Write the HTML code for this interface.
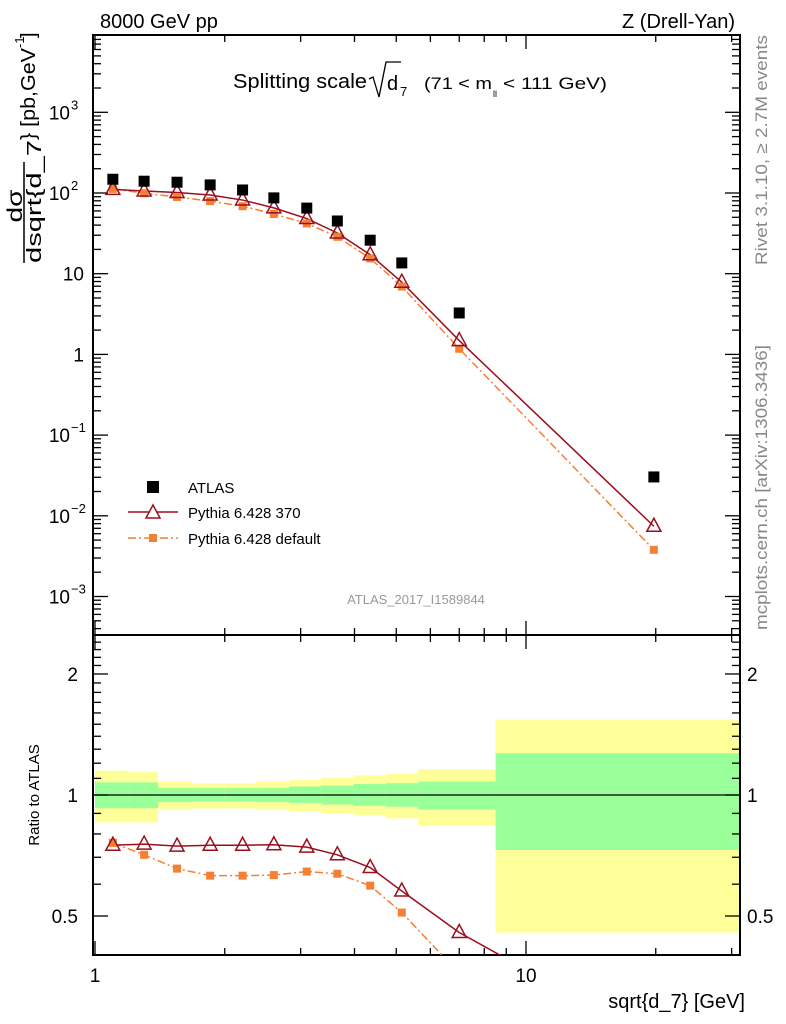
<!DOCTYPE html>
<html><head><meta charset="utf-8">
<style>
html,body{margin:0;padding:0;background:#fff;width:786px;height:1024px;overflow:hidden;}
svg{display:block;font-family:"Liberation Sans",sans-serif;}
</style></head>
<body>
<svg id="chart" width="786" height="1024" viewBox="0 0 786 1024" xmlns="http://www.w3.org/2000/svg">
<defs><clipPath id="rc"><rect x="93" y="635" width="647" height="320"/></clipPath></defs>
<g id="bands"></g>
<g id="frames"></g>
<g id="marks"></g>
<g id="rmarks" clip-path="url(#rc)"></g>
<g id="texts">
<text x="100" y="28" font-size="20">8000 GeV pp</text>
<text x="735" y="28" font-size="20" text-anchor="end">Z (Drell-Yan)</text>
<g>
<text x="233" y="88" font-size="20" textLength="134" lengthAdjust="spacingAndGlyphs">Splitting scale</text>
<path d="M369,79 L373,77 L379,97 L386,62 L401,62" fill="none" stroke="#000" stroke-width="1.3"/>
<text x="387" y="90" font-size="20">d</text>
<text x="400" y="96" font-size="13">7</text>
<text x="424" y="89" font-size="17" textLength="68" lengthAdjust="spacingAndGlyphs">(71 &lt; m</text>
<text x="493" y="97" font-size="9">ll</text>
<text x="503" y="89" font-size="17" textLength="104" lengthAdjust="spacingAndGlyphs">&lt; 111 GeV)</text>
</g>
<g transform="rotate(-90)">
<text x="-206" y="22" font-size="21" text-anchor="middle" textLength="33" lengthAdjust="spacingAndGlyphs">dσ</text>
<line x1="-263" y1="24" x2="-162" y2="24" stroke="#000" stroke-width="1.5"/>
<text x="-263" y="41" font-size="20" textLength="123" lengthAdjust="spacingAndGlyphs">dsqrt{d_7</text>
<text x="-140" y="35" font-size="20" textLength="92" lengthAdjust="spacingAndGlyphs">} [pb,GeV</text>
<text x="-48" y="24" font-size="13">-1</text>
<text x="-38" y="35" font-size="20">]</text>
</g>
<text transform="translate(39,795) rotate(-90)" font-size="15" text-anchor="middle">Ratio to ATLAS</text>
<text x="745" y="1008" font-size="20" text-anchor="end">sqrt{d_7} [GeV]</text>
<text transform="translate(767,265) rotate(-90)" font-size="17" fill="#888" textLength="230" lengthAdjust="spacingAndGlyphs">Rivet 3.1.10, ≥ 2.7M events</text>
<text transform="translate(767,630) rotate(-90)" font-size="17" fill="#888" textLength="285" lengthAdjust="spacingAndGlyphs">mcplots.cern.ch [arXiv:1306.3436]</text>
<text x="416" y="604" font-size="13" fill="#999" text-anchor="middle">ATLAS_2017_I1589844</text>
</g>
<g id="legend">
<rect x="147" y="481" width="12" height="12" fill="#000"/>
<text x="188" y="493" font-size="15">ATLAS</text>
<line x1="128" y1="512" x2="178" y2="512" stroke="#9b0e1e" stroke-width="1.5"/>
<path d="M153,505 L160,518 L146,518 Z" fill="#fff" stroke="#9b0e1e" stroke-width="1.5"/>
<text x="188" y="518" font-size="15">Pythia 6.428 370</text>
<line x1="128" y1="538" x2="178" y2="538" stroke="#f57f33" stroke-width="1.5" stroke-dasharray="8,3,2,3"/>
<rect x="149" y="534" width="8" height="8" fill="#f57f33"/>
<text x="188" y="544" font-size="15">Pythia 6.428 default</text>
</g>
</svg>
<script>
const xVals=[1.1,1.3,1.55,1.85,2.2,2.6,3.1,3.65,4.35,5.15,7.0,19.8];
const atlasVals=[148,140,136,126,109,87,65,45,26,13.6,3.26,0.0303];
const ratio370=[0.75,0.755,0.746,0.75,0.75,0.752,0.742,0.71,0.66,0.577,0.455,0.245];
const ratioDef=[0.76,0.71,0.656,0.63,0.63,0.632,0.645,0.637,0.595,0.51,0.36,0.125];
const binEdges=[1,1.2,1.4,1.68,2,2.37,2.82,3.35,3.98,4.73,5.62,8.5,31.6];
const yelHi=[1.15,1.14,1.08,1.07,1.07,1.08,1.09,1.105,1.12,1.13,1.16,1.54];
const yelLo=[0.855,0.855,0.92,0.925,0.925,0.92,0.91,0.90,0.89,0.875,0.84,0.455];
const grnHi=[1.075,1.075,1.04,1.04,1.04,1.04,1.05,1.055,1.065,1.07,1.08,1.27];
const grnLo=[0.927,0.927,0.96,0.963,0.963,0.96,0.955,0.947,0.94,0.935,0.92,0.73];
const yTicks=[-3,-2,-1,0,1,2,3];
const yTickLabels=["10","10","10","1","10","10","10"];
const yTickExp=["−3","−2","−1","","","2","3"];

const NS="http://www.w3.org/2000/svg";
const L=93,R=740,T=35,MB=635,RB=955;
const X=v=>95+431*Math.log10(v);
const Y=v=>193-80.7*(Math.log10(v)-2);
const RY=v=>795-402*Math.log10(v);
function mk(parent,tag,attrs){const e=document.createElementNS(NS,tag);for(const k in attrs)e.setAttribute(k,attrs[k]);document.getElementById(parent).appendChild(e);return e;}

for(let i=0;i<binEdges.length-1;i++){
  const x1=Math.max(X(binEdges[i]),L+1),x2=Math.min(X(binEdges[i+1]),R);
  let e=mk('bands','rect',{x:x1,y:RY(yelHi[i]),width:x2-x1,height:RY(yelLo[i])-RY(yelHi[i]),fill:'#ffff99'});
  
  
  e=mk('bands','rect',{x:x1,y:RY(grnHi[i]),width:x2-x1,height:RY(grnLo[i])-RY(grnHi[i]),fill:'#99ff99'});
  
  
}
mk('bands','line',{x1:L,y1:RY(1),x2:R,y2:RY(1),stroke:'#000','stroke-width':1.3});

[[T,MB],[MB,RB]].forEach(([a,b])=>{
  const f=mk('frames','rect',{x:L,y:a,width:R-L,height:b-a,fill:'none',stroke:'#000','stroke-width':2});
  
  
});
for(let d=0;d<2;d++)for(let m=1;m<10;m++){
  const v=m*Math.pow(10,d);const x=X(v);if(x<L||x>R)continue;
  const len=m===1?14:7;
  [T,MB].forEach(y=>mk('frames','line',{x1:x,y1:y,x2:x,y2:y+len,stroke:'#000','stroke-width':1.3}));
  [MB,RB].forEach(y=>mk('frames','line',{x1:x,y1:y,x2:x,y2:y-len,stroke:'#000','stroke-width':1.3}));
}
[[1,'1'],[10,'10']].forEach(([v,t])=>{const e=mk('frames','text',{x:X(v),y:982,'font-size':19,'text-anchor':'middle'});e.textContent=t;
  });
for(let d=-4;d<4;d++)for(let m=1;m<10;m++){
  const v=m*Math.pow(10,d);const y=Y(v);if(y<T||y>MB)continue;
  const len=m===1?15:8;
  mk('frames','line',{x1:L,y1:y,x2:L+len,y2:y,stroke:'#000','stroke-width':1.3});
  mk('frames','line',{x1:R,y1:y,x2:R-len,y2:y,stroke:'#000','stroke-width':1.3});
}
yTicks.forEach((p,i)=>{
  const y=Y(Math.pow(10,p));
  const e=mk('frames','text',{x:yTickExp[i]?70:84,y:y+7,'font-size':19,'text-anchor':'end'});
  e.textContent=yTickLabels[i];
  
  if(yTickExp[i]){const s=mk('frames','text',{x:71,y:y-3,'font-size':13});s.textContent=yTickExp[i];}
});
for(let k=4;k<=25;k++){
  const v=k/10;const y=RY(v);if(y<MB||y>RB)continue;
  const major=(k===5||k===10||k===20);
  const len=major?15:8;
  mk('frames','line',{x1:L,y1:y,x2:L+len,y2:y,stroke:'#000','stroke-width':1.3});
  mk('frames','line',{x1:R,y1:y,x2:R-len,y2:y,stroke:'#000','stroke-width':1.3});
}
[[0.5,'0.5'],[1,'1'],[2,'2']].forEach(([v,t])=>{
  let e=mk('frames','text',{x:78,y:RY(v)+7,'font-size':19,'text-anchor':'end'});e.textContent=t;
  
  e=mk('frames','text',{x:747,y:RY(v)+7,'font-size':19});e.textContent=t;
});

const v370=atlasVals.map((a,i)=>a*ratio370[i]);
const vDef=atlasVals.map((a,i)=>a*ratioDef[i]);
function poly(par,pts,color,dash){
  const p=mk(par,'polyline',{points:pts.map(q=>q.join(',')).join(' '),fill:'none',stroke:color,'stroke-width':1.5});
  if(dash)p.setAttribute('stroke-dasharray','8,3,2,3');
  
  
}
poly('marks',xVals.map((x,i)=>[X(x),Y(vDef[i])]),'#f57f33',true);
poly('marks',xVals.map((x,i)=>[X(x),Y(v370[i])]),'#9b0e1e',false);
poly('rmarks',xVals.map((x,i)=>[X(x),RY(ratioDef[i])]),'#f57f33',true);
poly('rmarks',xVals.map((x,i)=>[X(x),RY(ratio370[i])]),'#9b0e1e',false);
function tri(par,x,y){const e=mk(par,'path',{d:`M${x},${y-8} L${x+7},${y+5} L${x-7},${y+5} Z`,fill:'none',stroke:'#9b0e1e','stroke-width':1.5});
  
  }
function sq(par,x,y,s,c,name){const e=mk(par,'rect',{x:x-s/2,y:y-s/2,width:s,height:s,fill:c});
  
  }
xVals.forEach((x,i)=>{
  sq('marks',X(x),Y(vDef[i]),8,'#f57f33','pythia-default-point');
  tri('marks',X(x),Y(v370[i]));
  sq('marks',X(x),Y(atlasVals[i]),11,'#000','atlas-point');
  sq('rmarks',X(x),RY(ratioDef[i]),8,'#f57f33','ratio-default-point');
  tri('rmarks',X(x),RY(ratio370[i]));
});
</script>
</body></html>
